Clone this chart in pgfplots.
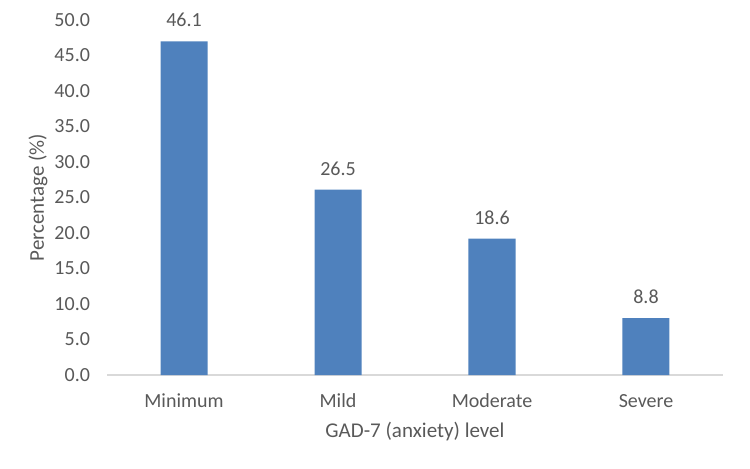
\documentclass[border=0pt]{standalone}
\usepackage{pgfplots}
\pgfplotsset{compat=1.18}
\usepackage{pgfplotstable}
\usepackage{fontspec}
\setmainfont{Carlito}
\definecolor{barblue}{HTML}{4F81BD}
\definecolor{txtgray}{HTML}{595959}
\definecolor{axgray}{HTML}{D9D9D9}

% bar heights as drawn, labels as printed
\pgfplotstableread{
x  y     lab
0  47.0  46.1
1  26.1  26.5
2  19.2  18.6
3  8.0   8.8
}\gadtable

\begin{document}
\begin{tikzpicture}
\path[use as bounding box] (0,0) rectangle (375pt,234pt);
\begin{axis}[
    scale only axis,
    width=308pt, height=177.5pt,
    at={(53.5pt,46.5pt)}, anchor=south west,
    xmin=-0.5, xmax=3.5, ymin=0, ymax=50,
    ytick={0,5,...,50},
    xtick={0,1,2,3},
    xticklabels={Minimum,Mild,Moderate,Severe},
    axis x line*=bottom, axis y line*=left,
    x axis line style={draw=axgray, line width=0.6pt, -},
    y axis line style={draw=none},
    major tick length=0pt,
    tick style={draw=none},
    font=\fontsize{10}{12}\selectfont,
    tick label style={text=txtgray, font=\fontsize{10}{12}\selectfont},
    /pgf/number format/.cd, fixed, fixed zerofill, precision=1, assume math mode=true,
    /pgfplots/.cd,
    yticklabel style={anchor=east, xshift=-5pt},
    xticklabel style={anchor=north, yshift=-6pt},
    xlabel={GAD-7 (anxiety) level},
    ylabel={Percentage (\%)},
    label style={text=txtgray, font=\fontsize{10.5}{12}\selectfont},
    xlabel style={at={(axis description cs:0.5,-0.158)}, anchor=center},
    ylabel style={at={(axis description cs:-0.112,0.5)}, anchor=center},
    clip=false,
]
\addplot[ybar, bar width=23.5pt, fill=barblue, draw=none,
    nodes near coords,
    point meta=explicit symbolic,
    every node near coord/.append style={text=txtgray, font=\fontsize{10}{12}\selectfont, anchor=south, inner sep=0pt, yshift=7pt}]
    table[x=x, y=y, meta=lab] {\gadtable};
\end{axis}
\end{tikzpicture}
\end{document}
